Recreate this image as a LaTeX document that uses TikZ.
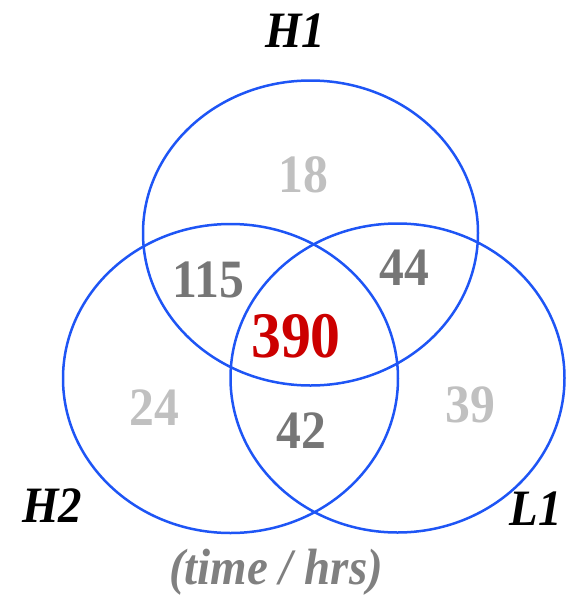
\documentclass[tikz,border=0pt]{standalone}
\usepackage{fontspec}
\setmainfont{Liberation Serif}[FakeStretch=0.92]
\definecolor{vblue}{RGB}{30,85,245}
\definecolor{lgray}{RGB}{192,192,192}
\definecolor{dgray}{RGB}{118,118,118}
\definecolor{vred}{RGB}{204,0,0}
\definecolor{lblgray}{RGB}{128,128,128}
\begin{document}
\begin{tikzpicture}[x=1pt,y=-1pt,
  setring/.style={draw=vblue,line width=2.5pt},
  num/.style={inner sep=0pt,anchor=base,font=\fontsize{54}{54}\selectfont\bfseries},
  lbl/.style={inner sep=0pt,anchor=base,font=\fontsize{51}{51}\selectfont\bfseries\itshape}]
\useasboundingbox (0,0) rectangle (570,595);
\draw[setring] (310.5,233) ellipse [x radius=167.5, y radius=152.5];
\draw[setring] (230.5,378.5) ellipse [x radius=167.5, y radius=154.5];
\draw[setring] (397.5,378) ellipse [x radius=167, y radius=154.5];
\node[num,text=lgray] (n18) at (303.5,192) {18};
\node[num,text=dgray] (n115) at (208,297) {115};
\node[num,text=dgray] (n44) at (404.5,285) {44};
\node[num,text=vred,font=\fontsize{65}{65}\selectfont\bfseries] (n390) at (296,357) {390};
\node[num,text=lgray] (n24) at (154,425) {24};
\node[num,text=dgray] (n42) at (301,448) {42};
\node[num,text=lgray] (n39) at (470,422) {39};
\node[lbl] (h1) at (295,47) {H1};
\node[lbl] (h2) at (52,522) {H2};
\node[lbl] (l1) at (536,525) {L1};
\node[lbl,text=lblgray] (cap) at (276,584) {(time / hrs)};
\end{tikzpicture}
\end{document}
